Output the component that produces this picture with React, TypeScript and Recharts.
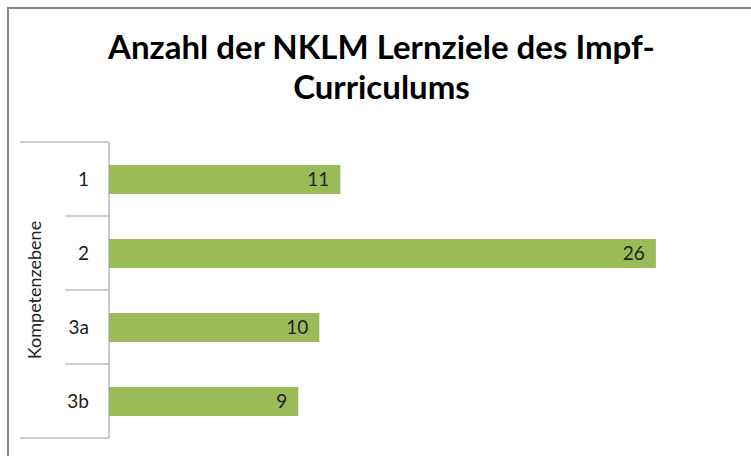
import { BarChart, Bar, XAxis, YAxis, LabelList } from 'recharts';

// Kompetenzebenen und Anzahl der Lernziele
const levels = ['1', '2', '3a', '3b'];
const counts = [11, 26, 10, 9];

const data = levels.map((level, i) => ({ level, count: counts[i] }));

const FONT = 'Lato, "Open Sans", sans-serif';
const AXIS_X = 109;
const PLOT_TOP = 142;
const PLOT_BOTTOM = 438;
const BAND = (PLOT_BOTTOM - PLOT_TOP) / levels.length;

const LevelTick = (props: any) => {
  const { y, payload, index } = props;
  const top = y - BAND / 2;
  const isFirst = index === 0;
  const isLast = index === levels.length - 1;
  return (
    <g>
      <line x1={isFirst ? 20 : 65} x2={AXIS_X} y1={top} y2={top} stroke="#999" strokeWidth={1} />
      {isLast && (
        <line x1={20} x2={AXIS_X} y1={y + BAND / 2} y2={y + BAND / 2} stroke="#999" strokeWidth={1} />
      )}
      <text x={89} y={y} dy={7} textAnchor="end" fontSize={19} fontFamily={FONT} fill="#222">
        {payload.value}
      </text>
      {isFirst && (
        <text
          x={35}
          y={top + BAND * 2}
          transform={`rotate(-90 35 ${top + BAND * 2})`}
          dy={6}
          textAnchor="middle"
          fontSize={18}
          fontFamily={FONT}
          fill="#222"
        >
          Kompetenzebene
        </text>
      )}
    </g>
  );
};

export default function App() {
  return (
    <div style={{ position: 'absolute', left: 0, top: 0, width: 751, height: 456, background: '#fff', overflow: 'hidden' }}>
      <div
        style={{
          position: 'absolute',
          left: 7,
          top: 7,
          width: 760,
          height: 460,
          borderLeft: '2px solid #8a8a8a',
          borderTop: '2px solid #8a8a8a',
        }}
      />
      <div
        style={{
          position: 'absolute',
          left: 7,
          top: 26,
          width: 749,
          textAlign: 'center',
          fontFamily: FONT,
          fontWeight: 700,
          fontSize: 33,
          lineHeight: '40px',
          color: '#000',
        }}
      >
        Anzahl der NKLM Lernziele des Impf-
        <br />
        Curriculums
      </div>
      <div style={{ position: 'absolute', left: 0, top: 0 }}>
        <BarChart
          width={751}
          height={456}
          data={data}
          layout="vertical"
          barSize={29}
          margin={{ top: PLOT_TOP, right: 11, bottom: 456 - PLOT_BOTTOM, left: 0 }}
        >
          <XAxis type="number" domain={[0, 30]} hide />
          <YAxis
            type="category"
            dataKey="level"
            width={AXIS_X}
            axisLine={{ stroke: '#999' }}
            tickLine={false}
            tick={<LevelTick />}
            interval={0}
          />
          <Bar dataKey="count" fill="#9bbb59" isAnimationActive={false}>
            <LabelList
              dataKey="count"
              position="insideRight"
              offset={11}
              fill="#222"
              fontSize={19}
              fontFamily={FONT}
            />
          </Bar>
        </BarChart>
      </div>
    </div>
  );
}
